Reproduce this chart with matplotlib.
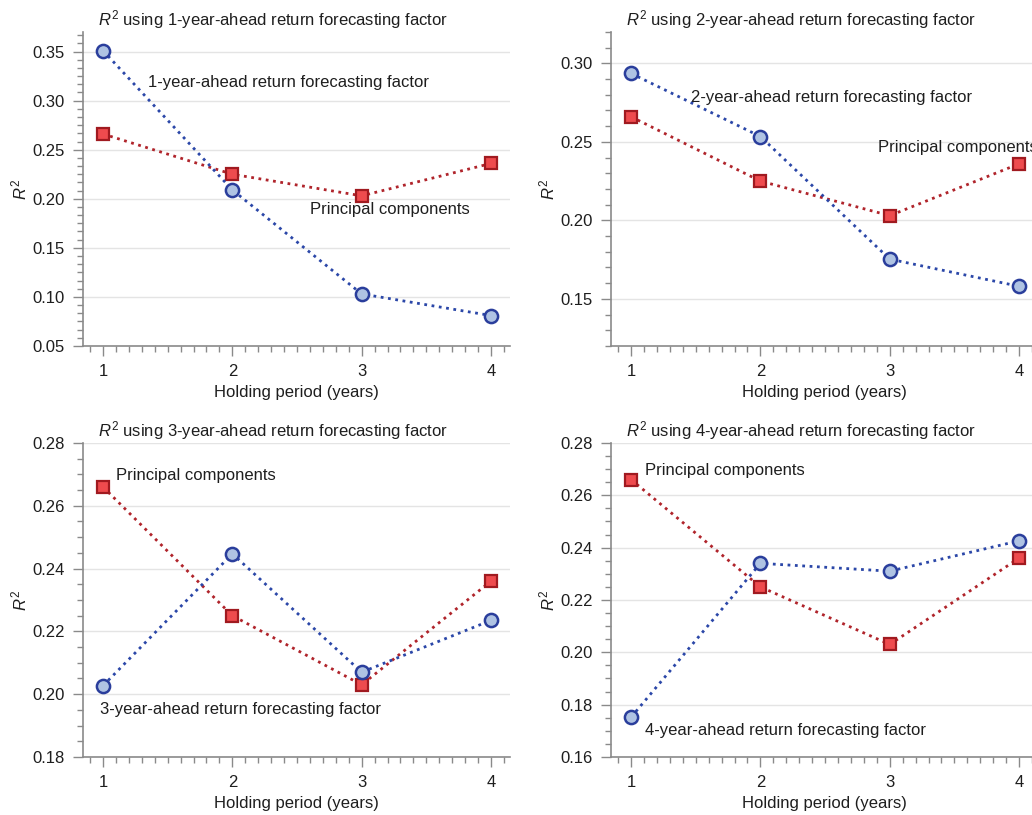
import matplotlib
matplotlib.use("Agg")
import matplotlib.pyplot as plt
from matplotlib.ticker import MultipleLocator, FixedLocator

plt.rcParams["font.family"] = ["Liberation Sans", "DejaVu Sans"]
plt.rcParams["mathtext.fontset"] = "custom"
plt.rcParams["mathtext.rm"] = "Liberation Sans"
plt.rcParams["mathtext.it"] = "Liberation Sans:italic"

holding = [1, 2, 3, 4]
pc_r2 = [0.266, 0.225, 0.203, 0.236]
factor_r2 = {
    1: [0.351, 0.209, 0.103, 0.081],
    2: [0.2936, 0.2534, 0.1753, 0.1580],
    3: [0.2027, 0.2447, 0.2070, 0.2235],
    4: [0.1752, 0.2340, 0.2310, 0.2426],
}
ylims = {1: (0.05, 0.37), 2: (0.12, 0.32), 3: (0.18, 0.28), 4: (0.16, 0.28)}
ymajor = {1: 0.05, 2: 0.05, 3: 0.02, 4: 0.02}
yminor = {1: 0.05 / 6, 2: 0.01, 3: 0.005, 4: 0.005}
# label positions (data coords): factor label, principal components label
factor_lbl = {1: (1.35, 0.318), 2: (1.46, 0.278), 3: (0.98, 0.195), 4: (1.11, 0.170)}
pc_lbl = {1: (2.60, 0.189), 2: (2.91, 0.2466), 3: (1.10, 0.2697), 4: (1.11, 0.2696)}

BLUE_LINE = "#2B47A8"
BLUE_EDGE = "#2A3E9C"
BLUE_FILL = "#AFC3E3"
RED_LINE = "#B0242B"
RED_EDGE = "#A01A20"
RED_FILL = "#EE4B4E"
SPINE = "#8A8A8A"
TXT = "#1E1E1E"
FS = 12

fig = plt.figure(figsize=(10.32, 8.15), dpi=100)
W, H = 0.4138, 0.3853
positions = {1: (0.0804, 0.5755), 2: (0.5921, 0.5755), 3: (0.0804, 0.0712), 4: (0.5921, 0.0712)}

for k in [1, 2, 3, 4]:
    x0, y0 = positions[k]
    ax = fig.add_axes([x0, y0, W, H])
    ax.set_xlim(0.845, 4.147)
    ax.set_ylim(*ylims[k])
    ax.yaxis.set_major_locator(MultipleLocator(ymajor[k]))
    ax.yaxis.set_minor_locator(MultipleLocator(yminor[k]))
    ax.xaxis.set_major_locator(FixedLocator(holding))
    ax.xaxis.set_minor_locator(MultipleLocator(0.1))
    ax.yaxis.set_major_formatter(plt.FormatStrFormatter("%.2f"))
    ax.grid(axis="y", which="major", color="#E4E4E4", lw=1.0)
    ax.set_axisbelow(True)
    for s in ["top", "right"]:
        ax.spines[s].set_visible(False)
    for s in ["left", "bottom"]:
        ax.spines[s].set_color(SPINE)
        ax.spines[s].set_linewidth(1.2)
    ax.tick_params(which="major", length=7, width=1.0, color=SPINE, labelsize=FS,
                   labelcolor=TXT, pad=6)
    ax.tick_params(which="minor", length=4, width=1.0, color=SPINE)

    ax.plot(holding, pc_r2, ls=":", lw=2.0, color=RED_LINE, marker="s", ms=8,
            mfc=RED_FILL, mec=RED_EDGE, mew=1.6, clip_on=False, zorder=3)
    ax.plot(holding, factor_r2[k], ls=":", lw=2.0, color=BLUE_LINE, marker="o", ms=9.5,
            mfc=BLUE_FILL, mec=BLUE_EDGE, mew=1.8, clip_on=False, zorder=4)

    fx, fy = factor_lbl[k]
    px, py = pc_lbl[k]
    ax.text(fx, fy, f"{k}-year-ahead return forecasting factor", fontsize=FS,
            color=TXT, ha="left", va="center", zorder=5)
    ax.text(px, py, "Principal components", fontsize=FS, color=TXT,
            ha="left", va="center", zorder=5)

    ax.set_title(f"$R^2$ using {k}-year-ahead return forecasting factor",
                 fontsize=FS, color=TXT, x=0.445, pad=5)
    ax.set_xlabel("Holding period (years)", fontsize=FS, color=TXT, labelpad=4)
    ax.set_ylabel("$R^2$", fontsize=FS, color=TXT, labelpad=2)

fig.savefig("out.png", dpi=100)
